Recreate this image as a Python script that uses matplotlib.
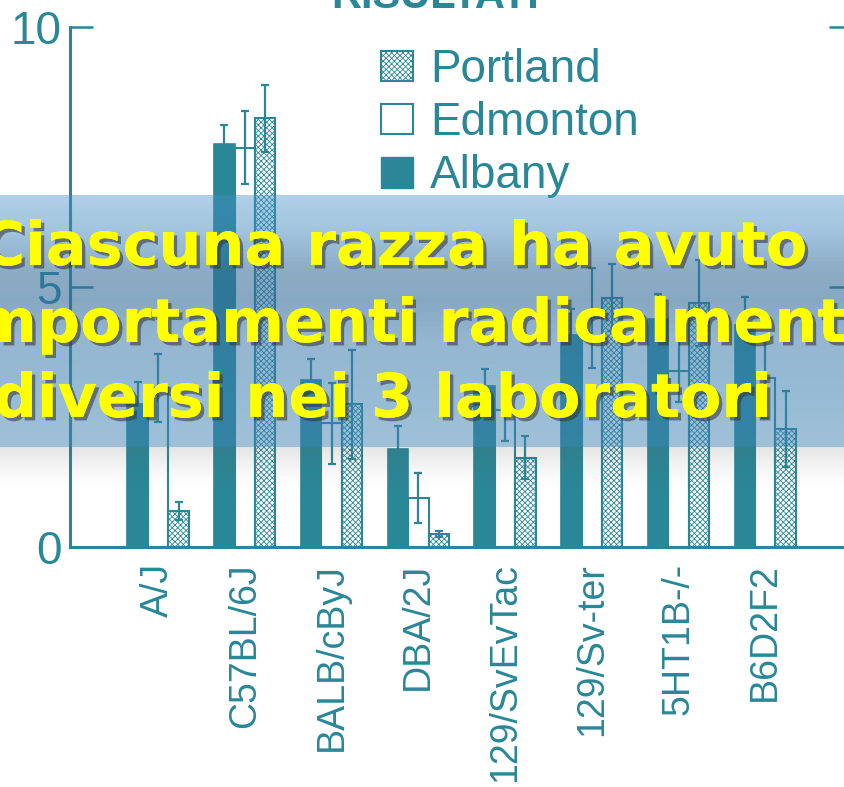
import numpy as np
import matplotlib.pyplot as plt
from matplotlib.patches import Patch
import matplotlib.patheffects as pe

# values (group order left to right)
strains = ["A/J", "C57BL/6J", "BALB/cByJ", "DBA/2J",
           "129/SvEvTac", "129/Sv-ter", "5HT1B-/-", "B6D2F2"]
albany = [2.75, 7.74, 3.2, 1.88, 3.09, 4.07, 4.37, 4.26]
albany_err = [0.42, 0.38, 0.4, 0.44, 0.33, 0.5, 0.5, 0.55]
edmonton = [3.05, 7.68, 2.37, 0.94, 2.63, 4.4, 3.38, 3.25]
edmonton_err = [0.65, 0.7, 0.78, 0.48, 0.6, 0.96, 0.6, 0.78]
portland = [0.68, 8.24, 2.74, 0.24, 1.71, 4.79, 4.68, 2.26]
portland_err = [0.17, 0.65, 1.05, 0.05, 0.42, 0.64, 0.83, 0.73]
y_ticks = [0, 5, 10]

title = "RISULTATI"
banner = ["Ciascuna razza ha avuto",
          "comportamenti radicalmente",
          "diversi nei 3 laboratori"]

teal = '#2a8797'
plt.rcParams['font.family'] = ['Liberation Sans', 'DejaVu Sans']
plt.rcParams['hatch.linewidth'] = 0.6
plt.rcParams['hatch.color'] = teal

W, H = 844, 787
fig = plt.figure(figsize=(W / 100, H / 100), dpi=100)
ax = fig.add_axes([70 / W, 240.5 / H, 782 / W, 519.5 / H])

x = np.arange(len(strains))
w = 0.236
ax.bar(x - w, albany, w, color=teal, edgecolor=teal, lw=1.2, label='Albany')
ax.bar(x, edmonton, w, color='white', edgecolor=teal, lw=1.5, label='Edmonton')
ax.bar(x + w, portland, w, color='white', edgecolor=teal, lw=1.5,
       hatch='xxxxxx', label='Portland')
for xs, v, e in [(x - w, albany, albany_err), (x, edmonton, edmonton_err),
                 (x + w, portland, portland_err)]:
    ax.errorbar(xs, v, yerr=e, fmt='none', ecolor=teal, elinewidth=1.6,
                capsize=3, capthick=1.6)

ax.set_xlim(-1.015, 8.0)
ax.set_ylim(0, 10)
ax.set_yticks(y_ticks)
ax.set_xticks(x)
ax.set_xticklabels(strains, rotation=90, va='top', ha='center')
ax.tick_params(axis='y', direction='in', length=16.5, width=1.8, right=True,
               labelsize=33, colors=teal, pad=6)
ax.tick_params(axis='x', length=0, labelsize=27, colors=teal, pad=12)
ax.spines['top'].set_visible(False)
for s in ['left', 'bottom', 'right']:
    ax.spines[s].set_color(teal)
    ax.spines[s].set_linewidth(2.2)

handles = [Patch(facecolor='white', edgecolor=teal, hatch='xxxxxx', lw=1.5, label='Portland'),
           Patch(facecolor='white', edgecolor=teal, lw=1.5, label='Edmonton'),
           Patch(facecolor=teal, edgecolor=teal, label='Albany')]
fig.legend(handles=handles, loc='upper left', bbox_to_anchor=(381 / W, 1 - 48 / H),
           frameon=False, fontsize=33, labelcolor=teal, borderpad=0,
           borderaxespad=0, handlelength=0.7, handleheight=0.65,
           handletextpad=0.37, labelspacing=0.2)

fig.text(435 / W, 1 - 8 / H, title, ha='center', va='baseline', fontsize=30,
         fontweight='bold', color=teal)

# translucent blue banner band with a soft shadow underneath
rows = np.arange(H)
keys = [195, 230, 270, 300, 340, 400, 447]
tr = np.interp(rows, keys, [175, 162, 140, 135, 148, 152, 160])
tg = np.interp(rows, keys, [208, 196, 172, 168, 182, 188, 192])
tb = np.interp(rows, keys, [232, 222, 198, 195, 208, 214, 216])
target = np.stack([tr, tg, tb], axis=1)
a = np.clip(1 - target.min(axis=1) / 255 + 0.12, 0, 1)
col = (target - (1 - a)[:, None] * 255) / a[:, None]
col = np.clip(col, 0, 255) / 255
rgba = np.zeros((H, 1, 4))
rgba[:, 0, :3] = col
inband = (rows >= 195) & (rows < 447)
rgba[:, 0, 3] = np.where(inband, a, 0)
shadow = (rows >= 447) & (rows < 492)
rgba[shadow, 0, :3] = 0.35
rgba[shadow, 0, 3] = 0.16 * (1 - (rows[shadow] - 447) / 45) ** 1.5

ov = fig.add_axes([0, 0, 1, 1], zorder=10)
ov.imshow(rgba, extent=[0, 1, 0, 1], aspect='auto', interpolation='bilinear')
ov.set_xlim(0, 1)
ov.set_ylim(0, 1)
ov.axis('off')

shadow_fx = [pe.withSimplePatchShadow(offset=(2.5, -2.5), shadow_rgbFace='#303030', alpha=0.55),
             pe.Normal()]
for line, base, cx in zip(banner, [265, 342, 417], [394, 392, 383]):
    t = fig.text(cx / W, 1 - base / H, line, ha='center', va='baseline',
                 fontsize=43.5, fontweight='bold', color='#ffff00', zorder=11,
                 family='DejaVu Sans')
    t.set_path_effects(shadow_fx)

fig.savefig('out.png', dpi=100)
